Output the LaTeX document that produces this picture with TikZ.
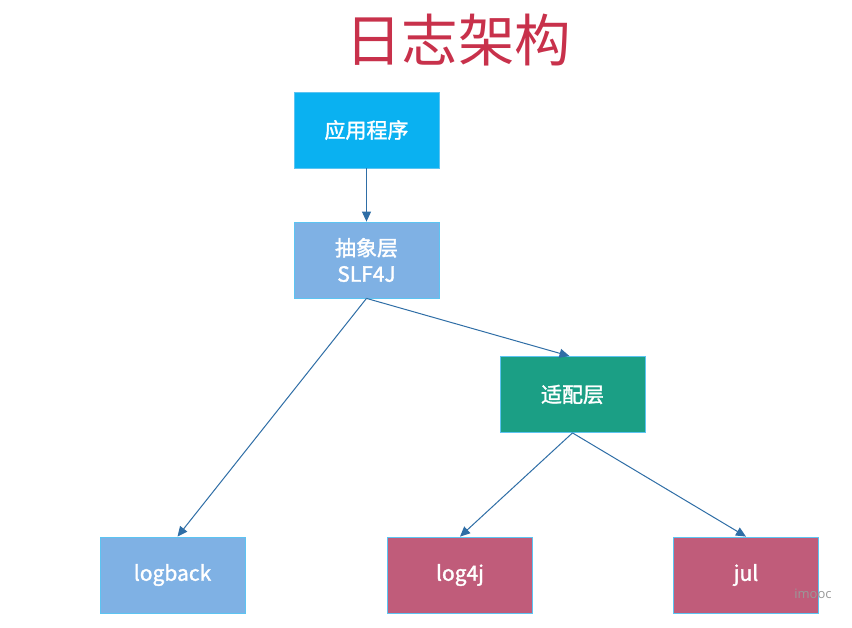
\documentclass[tikz,border=0pt]{standalone}
\usepackage{fontspec}
\setmainfont{Open Sans}
\newfontfamily\cjk{Noto Sans CJK SC}
\newfontfamily\cjkb[FakeBold=1.6]{Noto Sans CJK SC}
\usetikzlibrary{arrows.meta}
\definecolor{appblue}{HTML}{0AB1F1}
\definecolor{lightblue}{HTML}{7FB1E4}
\definecolor{teal}{HTML}{1B9F85}
\definecolor{rose}{HTML}{C05C7A}
\definecolor{edgeblue}{HTML}{5CC4F2}
\definecolor{arrowblue}{HTML}{2F6EA6}
\definecolor{titlered}{HTML}{C8314B}
\tikzset{
  box/.style={draw=edgeblue, line width=0.8pt, minimum width=145pt, minimum height=76pt,
    inner sep=0pt, text=white, font=\cjkb\fontsize{21}{27}\selectfont, align=center},
  conn/.style={draw=arrowblue, line width=1pt, -{Triangle[length=10pt,width=9pt]}}
}
\begin{document}
\begin{tikzpicture}[x=1pt,y=-1pt]
\useasboundingbox (0,0) rectangle (852,628);
\fill[white] (0,0) rectangle (852,628);
\node[text=titlered, font=\cjk\fontsize{56.5}{62}\selectfont] (title) at (458,40) {日志架构};
\node[box, fill=appblue] (app) at (366.5,130) {应用程序};
\node[box, fill=lightblue] (slf) at (366.5,260) {抽象层\\[-1pt]SLF4J};
\node[box, fill=teal] (adp) at (572.5,394.5) {适配层};
\node[box, fill=lightblue] (lb) at (172.5,575) {logback};
\node[box, fill=rose] (l4j) at (460,575) {log4j};
\node[box, fill=rose] (jul) at (746,575) {jul};
\node[text=black!40, font=\fontsize{13}{15}\selectfont] (wm) at (813,594) {imooc};
\draw[conn] (app.south) -- (slf.north);
\draw[conn] (slf.south) -- ([xshift=5pt]lb.north);
\draw[conn] (slf.south) -- ([xshift=-3pt]adp.north);
\draw[conn] (adp.south) -- (l4j.north);
\draw[conn] (adp.south) -- (jul.north);
\end{tikzpicture}
\end{document}
